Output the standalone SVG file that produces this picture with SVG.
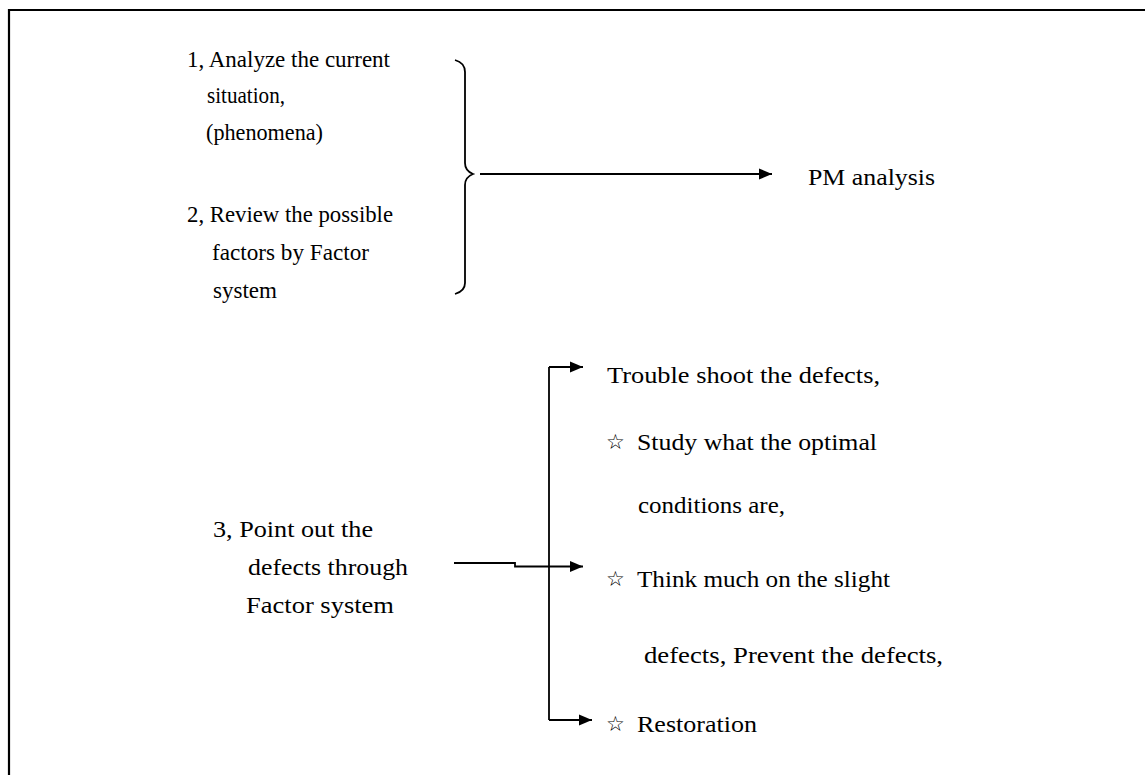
<svg xmlns="http://www.w3.org/2000/svg" width="1145" height="775" viewBox="0 0 1145 775">
<defs>
<style>
text{font-family:"Liberation Serif","DejaVu Serif",serif;font-size:23px;fill:#000}
.star{font-family:"DejaVu Sans",sans-serif;font-size:21px;font-weight:bold}
.ln{fill:none;stroke:#000;stroke-width:1.8}
</style>
<marker id="ah" markerUnits="userSpaceOnUse" markerWidth="14" markerHeight="12" refX="13" refY="6" orient="auto">
<path d="M0,0.5 L13,6 L0,11.5 Z" fill="#000"/>
</marker>
</defs>
<rect x="0" y="0" width="1145" height="775" fill="#fff"/>
<path d="M9,800 V10 H1160" fill="none" stroke="#000" stroke-width="2.2"/>

<g id="node-analyze">
<text x="187" y="67" textLength="203" lengthAdjust="spacingAndGlyphs">1, Analyze the current</text>
<text x="207" y="103" textLength="78" lengthAdjust="spacingAndGlyphs">situation,</text>
<text x="206" y="140" textLength="117" lengthAdjust="spacingAndGlyphs">(phenomena)</text>
</g>
<g id="node-review">
<text x="187" y="222" textLength="206" lengthAdjust="spacingAndGlyphs">2, Review the possible</text>
<text x="212" y="260" textLength="157" lengthAdjust="spacingAndGlyphs">factors by Factor</text>
<text x="213" y="298" textLength="64" lengthAdjust="spacingAndGlyphs">system</text>
</g>
<g id="node-pm">
<text x="808" y="185" textLength="127" lengthAdjust="spacingAndGlyphs">PM analysis</text>
</g>
<g id="node-point">
<text x="213" y="537" textLength="160" lengthAdjust="spacingAndGlyphs">3, Point out the</text>
<text x="248" y="575" textLength="160" lengthAdjust="spacingAndGlyphs">defects through</text>
<text x="246" y="613" textLength="148" lengthAdjust="spacingAndGlyphs">Factor system</text>
</g>
<g id="node-trouble">
<text x="607" y="383" textLength="273" lengthAdjust="spacingAndGlyphs">Trouble shoot the defects,</text>
<text class="star" x="606" y="449">☆</text>
<text x="637" y="450" textLength="240" lengthAdjust="spacingAndGlyphs">Study what the optimal</text>
<text x="638" y="513" textLength="147" lengthAdjust="spacingAndGlyphs">conditions are,</text>
</g>
<g id="node-think">
<text class="star" x="606" y="586">☆</text>
<text x="637" y="587" textLength="253" lengthAdjust="spacingAndGlyphs">Think much on the slight</text>
<text x="644" y="663" textLength="299" lengthAdjust="spacingAndGlyphs">defects, Prevent the defects,</text>
</g>
<g id="node-restore">
<text class="star" x="606" y="731">☆</text>
<text x="637" y="732" textLength="120" lengthAdjust="spacingAndGlyphs">Restoration</text>
</g>

<g id="connectors">
<path class="ln" d="M455,60 C462,62 465,66 465,72 L465,163 C465,168 468,172 473,174 C468,176 465,180 465,185 L465,283 C465,289 462,292 455,294"/>
<path class="ln" d="M480,174 H772" marker-end="url(#ah)"/>
<path class="ln" d="M454,563 H515 V566.5 H583" marker-end="url(#ah)"/>
<path class="ln" d="M549,367 V720"/>
<path class="ln" d="M549,367 H583" marker-end="url(#ah)"/>
<path class="ln" d="M549,720 H592" marker-end="url(#ah)"/>
</g>
</svg>
